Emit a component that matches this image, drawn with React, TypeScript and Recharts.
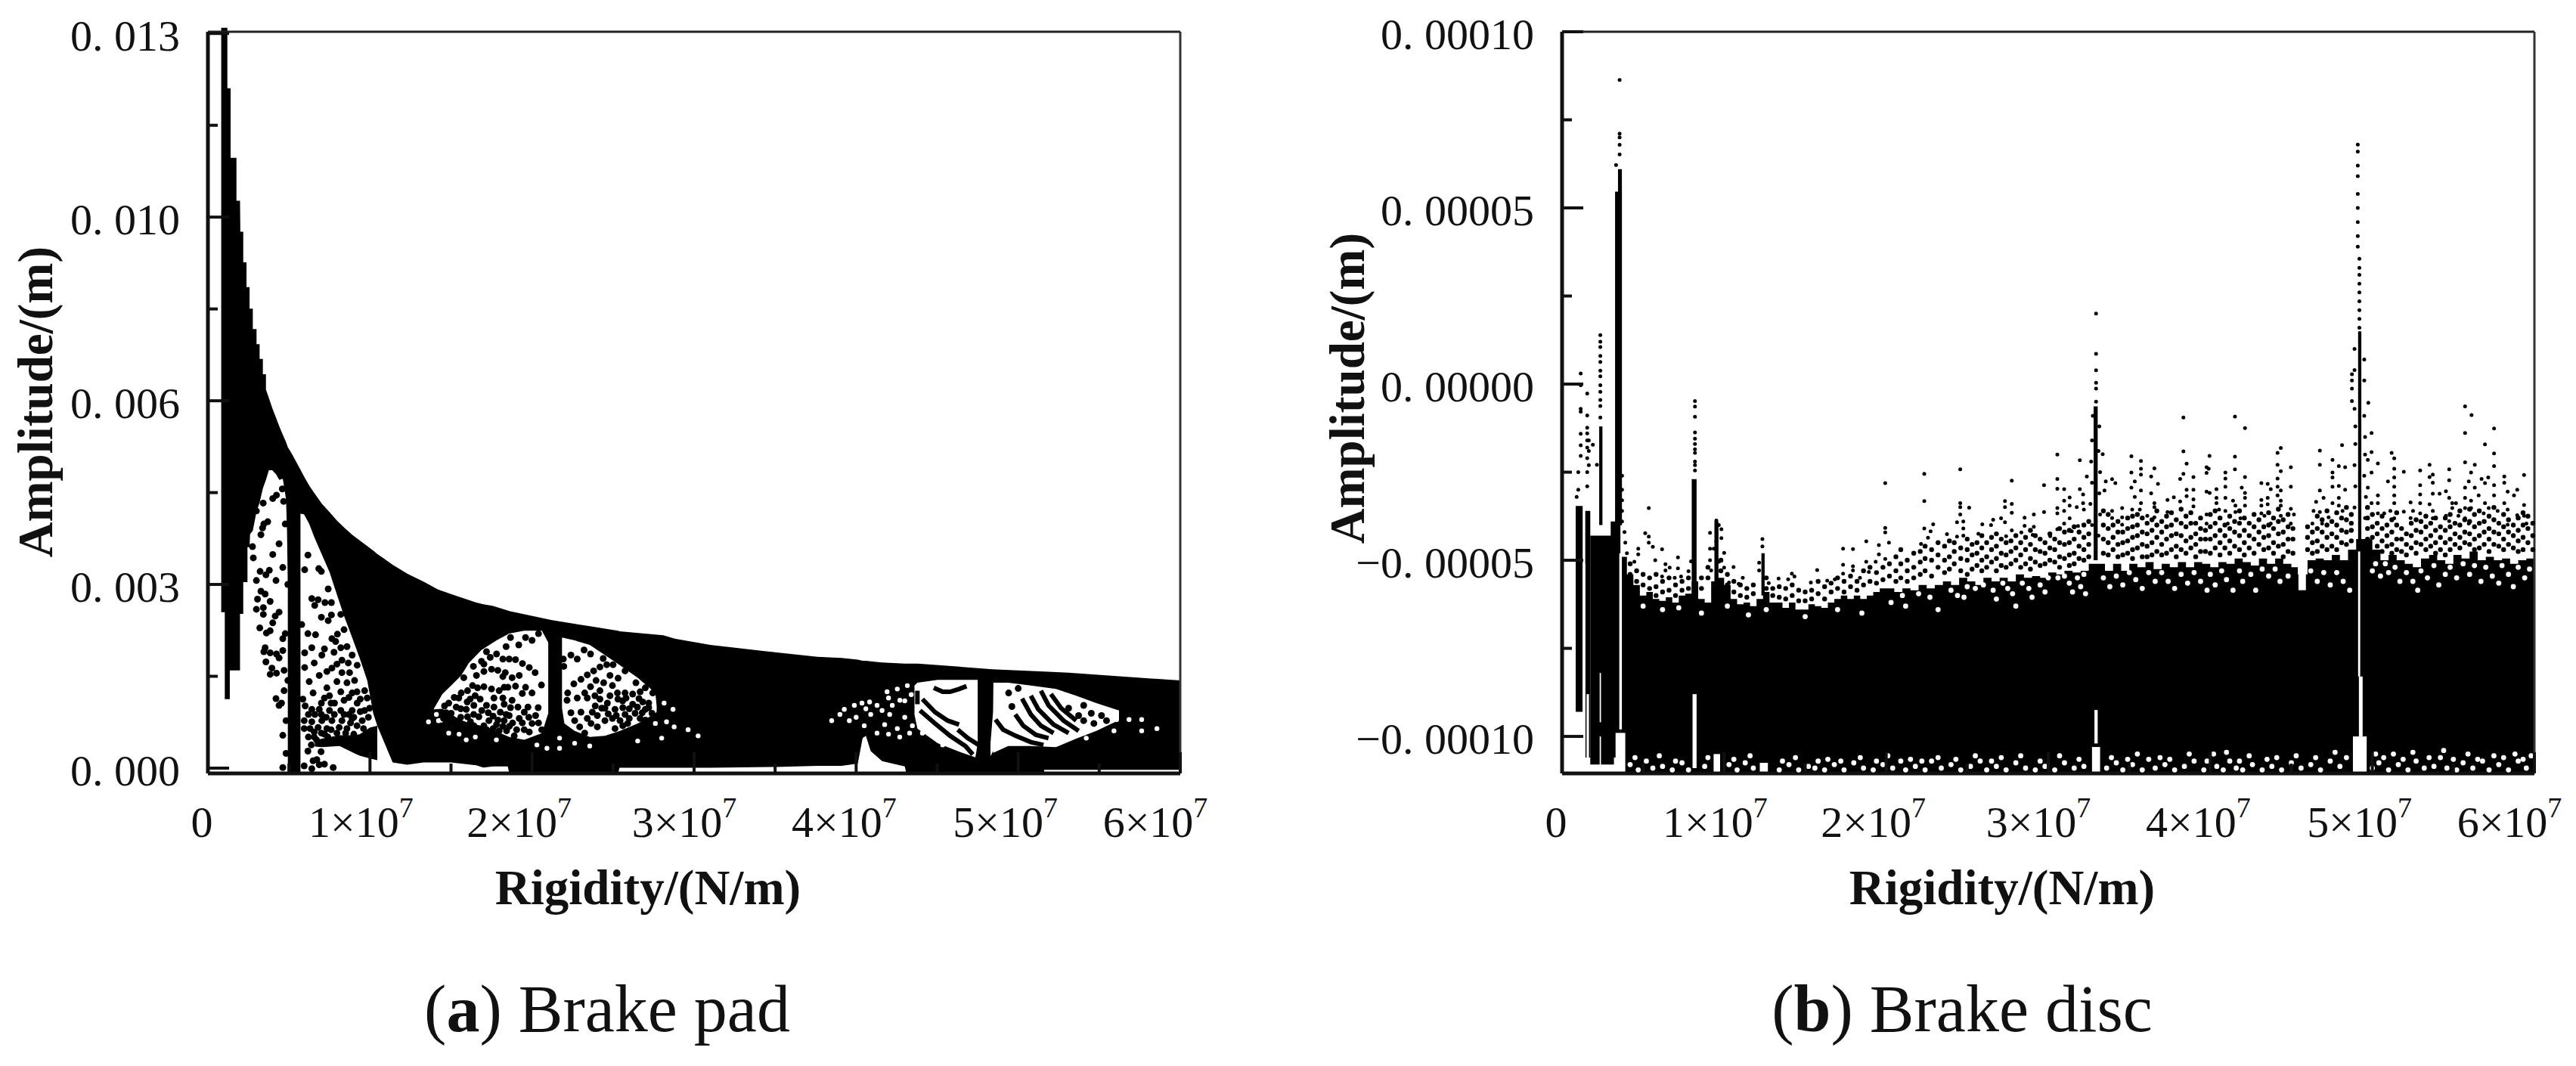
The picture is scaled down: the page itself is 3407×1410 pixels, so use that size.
import React from 'react';
import { ComposedChart, XAxis, YAxis, Area, Line, Scatter, ReferenceLine } from 'recharts';

// x values are in 1e7 N/m, pad amplitude in 1e-3 m, disc amplitude in 1e-5 m
const xMajor = [0, 1, 2, 3, 4, 5, 6];
const xMinor = [0.5, 1.5, 2.5, 3.5, 4.5, 5.5];
const xLabels = ['0', '1×10', '2×10', '3×10', '4×10', '5×10', '6×10'];
const xLabelShift = [-8, -12, -17, -13, -16, -17, -33];

const padYMajor = [0, 3.25, 6.5, 9.75, 13];
const padYMinor = [1.625, 4.875, 8.125, 11.375];
const padYLabels = ['0. 000', '0. 003', '0. 006', '0. 010', '0. 013'];

const discYMajor = [-10, -5, 0, 5, 10];
const discYMinor = [-7.5, -2.5, 2.5, 7.5];
const discYLabels = ['−0. 00010', '−0. 00005', '0. 00000', '0. 00005', '0. 00010'];

// [x, upper edge, lower edge] of the solid black part of panel a
const padBody = [
  [0.082, 13.1, 2.76], [0.104, 13.1, 2.76], [0.104, 13.1, 1.22], [0.12, 13.1, 1.22], [0.12, 12.03, 1.22],
  [0.135, 12.03, 1.22], [0.135, 12.03, 1.73], [0.14, 12.03, 1.73], [0.14, 10.8, 1.73], [0.176, 10.8, 1.73],
  [0.176, 10.04, 1.73], [0.198, 10.04, 1.73], [0.198, 10.04, 2.73], [0.2, 9.49, 2.73], [0.218, 9.49, 2.73],
  [0.218, 8.95, 3.29], [0.238, 8.95, 3.29], [0.238, 8.51, 3.29], [0.244, 8.51, 3.29], [0.244, 8.51, 3.91],
  [0.257, 8.51, 3.91], [0.257, 8.13, 3.91], [0.26, 8.13, 4.14], [0.277, 8.13, 4.2], [0.277, 7.77, 4.2],
  [0.3, 7.77, 4.54], [0.3, 7.5, 4.54], [0.319, 7.5, 4.7], [0.319, 7.24, 4.7], [0.339, 7.24, 4.95],
  [0.339, 6.97, 4.95], [0.358, 6.97, 5.1], [0.358, 6.7, 5.1], [0.376, 6.55, 5.27], [0.397, 6.37, 5.27],
  [0.42, 6.2, 5.2], [0.44, 6.05, 5.1], [0.462, 5.9, 5.12], [0.482, 5.77, 4.76], [0.488, 5.72, 4.2],
  [0.493, 5.68, 3.2], [0.493, 5.68, -0.094], [0.518, 5.56, -0.094], [0.571, 5.28, -0.094], [0.571, 5.28, 4.5],
  [0.593, 5.16, 4.49], [0.625, 5.0, 4.32], [0.656, 4.87, 4.09], [0.703, 4.68, 3.78], [0.75, 4.53, 3.47],
  [0.796, 4.38, 3.07], [0.843, 4.25, 2.67], [0.89, 4.13, 2.31], [0.936, 4.03, 1.95], [0.983, 3.93, 1.55],
  [1.006, 3.88, 1.19], [1.02, 3.85, 0.97], [1.045, 3.79, 0.75], [1.14, 3.6, 0.1], [1.23, 3.44, 0.06],
  [1.33, 3.3, 0.1], [1.42, 3.16, 0.1], [1.5, 3.08, 0.1], [1.656, 2.93, 0.05], [1.7, 2.9, 0.01],
  [1.76, 2.87, 0.03], [1.85, 2.79, 0.03], [1.86, 2.78, -0.094], [2.123, 2.62, -0.094], [2.356, 2.51, -0.094],
  [2.53, 2.43, -0.094], [2.54, 2.42, 0.005], [2.81, 2.35, 0.005], [2.88, 2.29, 0.005], [3.1, 2.18, 0.005],
  [3.5, 2.05, 0.02], [3.76, 1.97, 0.04], [3.91, 1.95, 0.04], [4.01, 1.92, 0.08], [4.04, 1.9, 0.53],
  [4.06, 1.9, 0.57], [4.09, 1.89, 0.3], [4.16, 1.87, 0.125], [4.3, 1.85, 0.03], [4.31, 1.85, -0.094],
  [4.38, 1.85, -0.094], [4.84, 1.75, -0.094], [5.16, 1.71, -0.094], [5.16, 1.71, -0.03], [5.31, 1.69, -0.03], [6.0, 1.55, -0.03],
];

// floor under the first dome, right of the vertical bar
const padFloorPatch = [[0.66, 0.48, 0.38], [0.703, 0.52, 0.37], [0.812, 0.58, 0.39], [0.905, 0.58, 0.26], [0.936, 0.6, 0.22], [1.0, 0.72, 0.17], [1.045, 0.75, 0.14]];

// white domes of panel a
const padDome2Left = [
  [1.392, 1.04, 1.04], [1.447, 1.31, 1.05], [1.501, 1.46, 0.95], [1.563, 1.64, 0.85], [1.61, 1.86, 0.8],
  [1.688, 2.09, 0.75], [1.781, 2.26, 0.65], [1.859, 2.38, 0.55], [1.952, 2.43, 0.5], [2.061, 2.43, 0.62], [2.1, 2.22, 0.97],
];
const padDome2Right = [
  [2.185, 2.31, 1.06], [2.2, 2.3, 0.79], [2.263, 2.26, 0.66], [2.356, 2.18, 0.55], [2.45, 2.0, 0.57],
  [2.543, 1.82, 0.66], [2.652, 1.6, 0.79], [2.761, 1.33, 0.97], [2.769, 1.1, 1.0],
];
const padDome3Left = [
  [4.36, 1.46, 0.95], [4.378, 1.51, 0.7], [4.503, 1.56, 0.44], [4.627, 1.56, 0.3], [4.736, 1.56, 0.19], [4.75, 1.56, 0.44],
];
const padDome3Right = [
  [4.829, 0.44, 0.21], [4.845, 1.0, 0.3], [4.847, 1.51, 0.27], [4.938, 1.51, 0.39], [5.078, 1.46, 0.39],
  [5.233, 1.4, 0.37], [5.358, 1.28, 0.52], [5.482, 1.15, 0.66], [5.622, 1.02, 0.85],
];

const padStreaks = [
  [[4.409, 1.22], [4.487, 0.99], [4.565, 0.84], [4.635, 0.77]],
  [[4.627, 0.68], [4.689, 0.53], [4.767, 0.39]],
  [[4.394, 1.02], [4.487, 0.79], [4.58, 0.57], [4.674, 0.39], [4.72, 0.24]],
  [[4.479, 1.42], [4.534, 1.35], [4.58, 1.35], [4.635, 1.4], [4.681, 1.45]],
  [[4.378, 1.37], [4.378, 1.13]],
  [[4.86, 0.86], [4.907, 0.68], [4.985, 0.57], [5.078, 0.46], [5.156, 0.41]],
  [[4.982, 0.95], [5.031, 0.75], [5.109, 0.59], [5.187, 0.53]],
  [[5.024, 1.23], [5.078, 0.95], [5.14, 0.75], [5.218, 0.62]],
  [[5.078, 1.28], [5.124, 1.04], [5.218, 0.77], [5.311, 0.62]],
  [[5.14, 1.37], [5.187, 1.11], [5.28, 0.84], [5.373, 0.66]],
  [[5.202, 1.31], [5.265, 1.06], [5.358, 0.84]],
];

const padDots = [
  [0.341, 4.69], [0.4, 4.77], [0.423, 4.83], [0.459, 4.94], [0.467, 4.72], [0.299, 4.55], [0.369, 4.36], [0.345, 4.32], [0.337, 4.25],
  [0.327, 4.13], [0.477, 4.32], [0.439, 3.97], [0.275, 3.92], [0.28, 3.72], [0.4, 3.78], [0.462, 3.55], [0.322, 3.48], [0.379, 3.5],
  [0.358, 3.42], [0.299, 3.32], [0.42, 3.32], [0.493, 3.25], [0.327, 3.13], [0.353, 3.08], [0.306, 2.99], [0.384, 2.95], [0.299, 2.81],
  [0.342, 2.84], [0.342, 2.72], [0.439, 2.76], [0.415, 2.69], [0.4, 2.57], [0.32, 2.48], [0.384, 2.43], [0.361, 2.39], [0.477, 2.38],
  [0.462, 2.29], [0.353, 2.13], [0.345, 2.06], [0.384, 2.04], [0.423, 2.02], [0.462, 2.08], [0.439, 1.95], [0.358, 1.88], [0.395, 1.77],
  [0.384, 1.66], [0.423, 1.68], [0.47, 1.73], [0.493, 1.55], [0.47, 1.37], [0.42, 1.23], [0.454, 1.15], [0.439, 1.11], [0.482, 0.84],
  [0.462, 0.58], [0.482, 0.26], [0.462, 0.01],
  [0.617, 3.77], [0.597, 3.51], [0.684, 3.53], [0.7, 3.48], [0.742, 3.17], [0.641, 3.0], [0.68, 2.98], [0.722, 2.93], [0.762, 2.93],
  [0.659, 2.88], [0.82, 2.72], [0.7, 2.67], [0.762, 2.71], [0.742, 2.61], [0.579, 2.54], [0.617, 2.38], [0.664, 2.36], [0.84, 2.45],
  [0.799, 2.37], [0.765, 2.29], [0.788, 2.24], [0.719, 2.11], [0.641, 2.13], [0.597, 2.04], [0.703, 2.0], [0.778, 2.05], [0.82, 2.13],
  [0.858, 2.15], [0.89, 2.0], [0.866, 1.86], [0.827, 1.91], [0.796, 1.84], [0.765, 1.77], [0.734, 1.71], [0.687, 1.64], [0.656, 1.86],
  [0.597, 1.78], [0.827, 1.69], [0.874, 1.69], [0.921, 1.82], [0.625, 1.53], [0.796, 1.53], [0.734, 1.42], [0.858, 1.51], [0.905, 1.55],
  [0.967, 1.37], [0.649, 1.33], [0.75, 1.28], [0.82, 1.35], [0.89, 1.33], [0.586, 1.22], [0.719, 1.24], [0.781, 1.15], [0.921, 1.15],
  [0.983, 1.24], [0.641, 1.04], [0.687, 1.04], [0.75, 1.02], [0.82, 1.02], [0.89, 1.02], [0.967, 1.02], [0.998, 1.06], [0.594, 0.84],
  [0.641, 0.82], [0.703, 0.84], [0.765, 0.84], [0.827, 0.84], [0.89, 0.88], [0.952, 0.84], [0.594, 0.7], [0.656, 0.64], [0.734, 0.7],
  [0.796, 0.62], [0.858, 0.7], [0.656, 0.55], [0.638, 0.41], [0.617, 0.3], [0.698, 0.29], [0.649, 0.13], [0.672, 0.15], [0.719, 0.07],
  [0.773, 0.01], [0.594, 0.04], [0.641, -0.01], [0.687, 0.06],
  [0.6, 1.1], [0.62, 0.95], [0.66, 0.95], [0.7, 0.95], [0.73, 0.9], [0.78, 0.95], [0.84, 0.95], [0.87, 0.95], [0.9, 0.9], [0.94, 1.0],
  [0.63, 0.7], [0.68, 0.72], [0.72, 0.6], [0.76, 0.68], [0.81, 0.72], [0.85, 0.62], [0.88, 0.8], [0.92, 0.75], [0.96, 0.7], [0.99, 0.9],
  [0.7, 1.15], [0.76, 1.15], [0.84, 1.2], [0.87, 1.25], [0.92, 1.35], [0.94, 1.22], [0.67, 0.5], [0.74, 0.55], [0.78, 0.5], [0.9, 0.6],
  [0.98, 0.6], [0.7, 0.62], [0.62, 0.55],
  [2.04, 2.38], [1.96, 2.31], [2.0, 2.26], [1.867, 2.31], [1.84, 2.15], [1.918, 2.18], [1.781, 2.02], [1.742, 1.96], [1.719, 2.06],
  [1.82, 1.93], [1.859, 1.93], [1.898, 1.92], [1.941, 1.85], [1.983, 1.78], [2.019, 1.69], [1.688, 1.89], [1.703, 1.84], [1.638, 1.8],
  [1.703, 1.71], [1.75, 1.75], [1.789, 1.73], [1.835, 1.69], [1.82, 1.62], [1.877, 1.6], [1.921, 1.64], [1.657, 1.64], [1.579, 1.6],
  [2.058, 1.47], [1.96, 1.43], [1.898, 1.45], [1.851, 1.43], [1.828, 1.43], [1.633, 1.46], [1.664, 1.42], [1.703, 1.44], [1.75, 1.4],
  [1.797, 1.37], [1.94, 1.32], [2.0, 1.33], [1.602, 1.37], [1.649, 1.28], [1.68, 1.22], [1.618, 1.22], [1.548, 1.24], [1.563, 1.33],
  [1.765, 1.24], [1.82, 1.24], [1.877, 1.2], [1.828, 1.13], [1.867, 1.07], [1.913, 1.08], [1.975, 1.08], [2.038, 1.07], [1.641, 1.11],
  [1.594, 1.04], [1.719, 1.11], [1.765, 1.08], [1.952, 0.99], [1.921, 0.88], [1.804, 0.99], [1.859, 0.93], [1.828, 0.84], [2.022, 0.93],
  [2.0, 0.79], [1.952, 0.68], [1.905, 0.68], [1.781, 0.77], [1.734, 0.84], [1.672, 0.91], [1.602, 0.91], [1.532, 1.08], [1.501, 0.97],
  [1.548, 0.79], [1.486, 1.15], [1.454, 0.88], [1.641, 0.75], [1.703, 0.75], [1.579, 0.66], [1.486, 0.75], [1.843, 0.66], [1.983, 0.64],
  [1.797, 0.66], [1.89, 0.57],
  [1.46, 1.1], [1.52, 1.25], [1.56, 1.05], [1.6, 1.17], [1.64, 0.95], [1.69, 1.02], [1.73, 0.98], [1.76, 0.92], [1.79, 0.85], [1.84, 0.95],
  [1.88, 0.8], [1.94, 0.8], [1.98, 0.9], [2.04, 0.8], [2.06, 0.68], [1.62, 0.82], [1.66, 0.68], [1.72, 0.68], [1.76, 0.7], [1.82, 0.74],
  [1.86, 0.74], [1.47, 0.98], [1.51, 0.85], [1.56, 0.9], [1.52, 0.72], [1.6, 0.72],
  [2.193, 1.93], [2.24, 2.0], [2.279, 1.93], [2.321, 2.09], [2.361, 2.02], [2.439, 1.94], [2.196, 1.8], [2.461, 1.83], [2.5, 1.83],
  [2.419, 1.79], [2.38, 1.72], [2.341, 1.65], [2.302, 1.57], [2.258, 1.49], [2.574, 1.72], [2.481, 1.64], [2.531, 1.59], [2.395, 1.55],
  [2.442, 1.51], [2.496, 1.46], [2.361, 1.44], [2.419, 1.37], [2.641, 1.51], [2.699, 1.42], [2.745, 1.33], [2.325, 1.33], [2.22, 1.33],
  [2.216, 1.2], [2.279, 1.24], [2.341, 1.24], [2.388, 1.28], [2.481, 1.28], [2.527, 1.33], [2.574, 1.33], [2.621, 1.31], [2.667, 1.35],
  [2.419, 1.22], [2.465, 1.15], [2.559, 1.19], [2.621, 1.13], [2.683, 1.17], [2.24, 0.98], [2.302, 0.99], [2.341, 0.88], [2.372, 0.99],
  [2.403, 0.93], [2.45, 1.06], [2.512, 1.04], [2.574, 0.95], [2.699, 1.04], [2.263, 0.84], [2.294, 0.73], [2.325, 0.62], [2.364, 0.79],
  [2.403, 0.73], [2.45, 0.84], [2.496, 0.88], [2.543, 0.84], [2.636, 0.97], [2.512, 0.7], [2.59, 0.79], [2.667, 0.88],
  [2.52, 0.93], [2.56, 1.07], [2.6, 1.05], [2.65, 1.08], [2.68, 0.98], [2.72, 1.15], [2.6, 0.88], [2.56, 0.75], [2.62, 0.68], [2.47, 0.96],
  [2.43, 1.06], [2.39, 1.1], [2.53, 1.22], [2.58, 1.24], [2.66, 1.23], [2.72, 1.07], [2.7, 0.85], [2.74, 0.97],
  [4.941, 1.33], [5.0, 1.41], [4.961, 1.09], [5.404, 1.11], [5.451, 0.97], [5.514, 0.93], [5.467, 0.79], [5.545, 0.84], [5.373, 0.93],
  [5.311, 1.06], [5.404, 0.84],
];

const padSpecks = [
  [3.927, 1.04], [3.989, 1.11], [4.083, 1.17], [4.129, 1.11], [4.191, 1.35], [4.254, 1.4], [4.316, 1.46], [4.223, 1.11], [4.3, 1.19],
  [4.09, 0.95], [3.849, 0.84], [3.958, 0.84], [4.176, 0.77], [4.254, 0.7], [4.347, 0.75], [4.3, 0.9], [4.129, 0.62], [4.269, 0.55],
  [4.409, 0.62], [4.534, 0.41], [4.036, 1.15], [4.16, 1.02], [4.207, 0.95], [5.373, 1.15], [5.436, 1.13], [5.514, 1.06], [5.575, 0.99],
  [5.607, 0.86], [5.684, 0.86], [5.762, 0.86], [5.498, 0.79], [5.404, 0.62], [5.591, 0.66], [5.762, 0.66], [5.42, 0.53], [5.342, 0.59],
  [5.856, 0.7], [2.815, 1.15], [2.87, 1.04], [2.761, 0.79], [2.83, 0.82], [2.877, 0.73], [2.8, 0.53], [2.963, 0.68], [3.025, 0.57],
  [2.652, 0.48], [2.356, 0.39], [2.263, 0.44], [2.03, 0.41], [1.594, 0.5], [1.486, 0.62], [1.423, 0.84], [1.361, 0.82], [2.17, 0.53],
  [2.17, 0.35], [2.092, 0.35], [1.41, 0.95], [1.44, 0.85], [1.55, 0.6], [1.65, 0.55], [1.78, 0.5], [3.9, 0.95], [4.0, 0.9], [4.06, 1.05],
  [4.2, 1.24], [4.27, 1.2], [4.34, 1.3], [4.05, 0.75], [4.2, 0.6], [4.33, 0.62],
];

// [x, upper edge] of the solid band of panel b, it runs down to the axis
const discBandTop = [
  [0.36, -4.9], [0.4, -5.4], [0.44, -5.7], [0.48, -6.0], [0.52, -5.9], [0.56, -6.1], [0.6, -6.15], [0.64, -6.05], [0.68, -6.2], [0.72, -6.0],
  [0.76, -5.95], [0.8, -5.6], [0.84, -6.1], [0.88, -6.2], [0.92, -5.6], [0.96, -5.5], [1.0, -5.7], [1.04, -6.1], [1.08, -6.25], [1.12, -6.2],
  [1.16, -6.3], [1.2, -6.1], [1.24, -5.9], [1.28, -6.2], [1.32, -6.2], [1.36, -6.35], [1.4, -6.2], [1.44, -6.4], [1.48, -6.4], [1.52, -6.25],
  [1.56, -6.3], [1.6, -6.35], [1.64, -6.2], [1.68, -6.1], [1.72, -6.0], [1.76, -6.1], [1.8, -6.0], [1.84, -6.1], [1.88, -6.0], [1.92, -5.9],
  [1.96, -5.8], [2.0, -5.8], [2.05, -5.9], [2.1, -5.8], [2.15, -5.85], [2.2, -5.7], [2.25, -5.8], [2.3, -5.7], [2.35, -5.6], [2.4, -5.7],
  [2.45, -5.5], [2.5, -5.6], [2.55, -5.7], [2.6, -5.5], [2.65, -5.6], [2.7, -5.5], [2.75, -5.6], [2.8, -5.4], [2.85, -5.5], [2.9, -5.45],
  [2.95, -5.5], [3.0, -5.35], [3.05, -5.4], [3.1, -5.3], [3.15, -5.35], [3.2, -5.3], [3.25, -5.1], [3.35, -5.3], [3.4, -5.1], [3.45, -5.3],
  [3.5, -5.1], [3.55, -5.2], [3.6, -5.05], [3.65, -5.25], [3.7, -5.1], [3.75, -5.2], [3.8, -5.05], [3.85, -5.2], [3.9, -5.05], [3.95, -5.1],
  [4.0, -5.2], [4.05, -5.05], [4.1, -5.1], [4.15, -4.95], [4.2, -5.05], [4.25, -5.15], [4.3, -4.95], [4.35, -5.1], [4.4, -4.95], [4.45, -5.1],
  [4.5, -5.2], [4.54, -5.4], [4.6, -5.0], [4.65, -4.95], [4.7, -5.0], [4.75, -4.85], [4.8, -5.0], [4.85, -4.7], [4.9, -4.4], [5.0, -4.7],
  [5.05, -5.0], [5.1, -4.85], [5.15, -5.0], [5.2, -5.1], [5.25, -5.2], [5.3, -4.95], [5.35, -4.85], [5.4, -5.0], [5.45, -5.1], [5.5, -4.85],
  [5.55, -4.95], [5.6, -4.75], [5.65, -5.0], [5.7, -4.9], [5.75, -5.0], [5.8, -4.95], [5.85, -5.1], [5.9, -5.0], [5.95, -4.95], [6.0, -5.1],
];
const discFloor = -11.05;

// [x from, x to, low, high]
const discSpikes = [
  [0.084, 0.127, -9.3, -3.46], [0.143, 0.174, -10.6, -3.6], [0.174, 0.32, -10.8, -4.3], [0.229, 0.249, -4, -1.2], [0.3, 0.36, -10.6, -3.9],
  [0.345, 0.369, -4, 6.1], [0.327, 0.369, -4, 5.46], [0.8, 0.83, -6, -2.7], [0.94, 0.965, -6, -3.9], [1.23, 1.25, -6, -4.8],
  [3.28, 3.305, -5, -0.63], [4.912, 4.932, -5, 1.5],
];
const discWhiteStrips = [
  [0.127, 0.143, -11.05, -5.1], [0.151, 0.166, -11.05, -8.8], [0.353, 0.369, -9.8, -4.8], [0.33, 0.39, -11.05, -9.9], [0.805, 0.83, -10.9, -8.8],
  [3.285, 3.305, -10.2, -9.25], [3.27, 3.32, -11.05, -10.3], [4.912, 4.925, -8.3, -4.75], [4.917, 4.94, -10, -8.3], [4.88, 4.965, -11.05, -10],
  [4.544, 4.59, -5.85, -4.4], [0.232, 0.24, -9.6, -8.2], [0.232, 0.24, -11.05, -10], [0.935, 0.975, -11.05, -10.5], [1.22, 1.27, -11.05, -10.75],
];

const discDots = [
  [0.355, 8.63], [0.355, 7.11], [0.355, 7.0], [0.355, 6.79], [0.355, 6.52], [0.333, 6.22],
  [0.115, 0.3], [0.115, -0.03], [0.115, -0.7], [0.115, -0.78], [0.115, -1.41], [0.115, -1.74], [0.115, -2.04],
  [0.155, -0.27], [0.155, -0.89], [0.155, -1.24], [0.155, -1.4], [0.155, -1.6], [0.155, -1.8], [0.155, -2.1], [0.155, -2.5], [0.155, -2.9],
  [0.165, -1.6], [0.165, -1.9], [0.165, -2.3], [0.19, -1.72], [0.215, -2.29], [0.1, -2.5], [0.1, -3.0], [0.09, -3.2],
  [0.236, 1.39], [0.236, 1.2], [0.236, 1.05], [0.236, 0.8], [0.236, 0.63], [0.236, 0.38], [0.236, 0.22], [0.236, -0.03], [0.236, -0.22], [0.236, -0.45], [0.236, -0.62], [0.236, -0.95],
  [0.37, -2.6], [0.37, -3.0], [0.37, -3.3], [0.37, -3.6], [0.37, -3.9], [0.385, -4.2], [0.39, -4.5], [0.4, -4.8],
  [0.82, -0.48], [0.82, -0.64], [0.82, -0.93], [0.82, -1.37], [0.82, -1.55], [0.82, -1.7], [0.82, -1.85], [0.82, -1.95], [0.82, -2.2], [0.82, -2.3], [0.82, -2.45],
  [3.295, 2.0], [3.295, 0.86], [3.295, 0.39], [3.295, 0.04], [3.295, -0.13], [3.295, -0.5],
  [3.275, -0.9], [3.315, -1.2], [3.27, -1.6], [3.31, -1.9], [3.265, -2.2], [3.32, -2.5], [3.27, -2.8], [3.315, -3.1], [3.26, -3.4], [3.32, -3.7], [3.27, -4.0], [3.31, -4.3],
  [4.91, 6.8], [4.91, 6.6], [4.91, 6.2], [4.91, 5.9], [4.91, 5.4], [4.91, 5.0], [4.91, 4.6], [4.91, 4.2], [4.91, 3.9], [4.874, 0.28], [4.874, 0.1],
  [4.92, 3.56], [4.92, 3.3], [4.92, 3.1], [4.92, 2.85], [4.92, 2.6], [4.92, 2.35], [4.92, 2.1], [4.92, 1.85], [4.92, 1.6],
  [4.89, 1.0], [4.95, 0.7], [4.89, 0.4], [4.95, 0.1], [4.89, -0.7], [4.95, -0.9], [4.895, -1.2], [4.955, -1.5], [4.895, -1.7], [4.955, -2.0], [4.89, -2.3], [4.95, -2.6], [4.895, -2.9], [4.96, -3.2], [4.89, -3.5], [4.955, -3.8],
  [0.535, -3.52], [0.513, -4.23], [0.535, -4.33], [0.535, -4.5], [0.56, -4.62], [0.617, -4.69], [0.47, -4.67], [0.47, -4.83], [0.446, -5.04], [0.575, -5.0],
  [0.715, -4.92], [0.715, -5.23], [0.638, -5.11], [0.664, -5.21], [0.638, -5.29], [0.617, -5.46], [0.695, -5.5], [0.734, -5.46], [0.78, -5.31], [0.796, -5.03],
  [0.913, -4.22], [0.967, -4.0], [0.983, -4.12], [0.952, -3.87], [0.952, -4.46], [0.983, -4.37], [0.913, -4.67], [0.936, -4.67], [1.0, -4.79], [0.913, -5.0],
  [0.967, -5.04], [0.92, -5.29], [1.0, -5.21], [1.058, -5.19], [1.115, -5.5], [1.09, -5.67], [1.03, -5.63],
  [1.236, -4.4], [1.236, -4.61], [1.216, -5.07], [1.216, -5.29], [1.275, -5.65], [1.336, -5.52], [1.418, -5.38], [1.434, -5.46], [1.395, -5.54], [1.574, -5.28],
  [1.535, -5.63], [1.636, -5.58], [1.734, -4.67], [1.795, -4.68], [1.734, -5.13], [1.795, -5.17], [1.795, -5.29], [1.734, -5.38], [1.877, -4.46], [1.877, -5.04],
  [1.955, -4.57], [1.994, -2.81], [1.994, -4.08], [1.994, -4.21], [2.017, -4.5], [1.955, -4.83], [1.994, -4.96], [1.935, -5.04], [1.893, -5.33], [1.683, -5.54], [1.838, -5.5],
  [2.235, -2.55], [2.235, -3.32], [2.235, -4.1], [2.457, -2.42], [2.457, -3.38], [2.457, -3.49], [2.457, -3.7], [2.476, -3.9], [2.476, -4.1], [2.476, -4.3], [2.512, -3.51],
  [2.29, -3.98], [2.274, -4.18], [2.258, -4.36], [2.215, -4.54], [2.375, -4.26], [2.437, -3.92], [2.437, -4.33], [2.569, -4.25], [2.593, -3.98], [2.647, -4.0], [2.66, -3.85],
  [2.709, -3.81], [2.733, -3.92], [2.74, -4.32], [2.775, -2.74], [2.733, -3.32], [2.733, -3.49], [2.775, -3.4], [2.775, -3.65], [2.775, -4.15], [2.854, -3.79], [2.854, -4.02],
  [2.911, -3.7], [2.911, -4.05], [2.834, -4.21], [2.974, -2.87], [2.974, -3.63], [3.012, -4.32], [2.904, -4.28], [3.056, -2.0], [3.056, -2.69], [3.056, -2.97], [3.056, -3.52],
  [3.056, -3.67], [3.056, -4.12], [3.098, -2.98], [3.098, -3.31], [3.098, -3.6], [3.098, -3.96], [3.132, -3.22], [3.132, -3.45], [3.132, -3.81], [3.195, -2.16], [3.195, -2.98],
  [3.215, -3.13], [3.215, -3.38], [3.22, -3.56], [3.176, -3.49], [3.238, -2.62], [3.184, -4.03], [3.145, -4.18], [3.336, -1.99], [3.355, -2.76], [3.347, -3.02], [3.394, -2.7],
  [3.414, -2.81], [3.394, -3.6], [3.394, -3.8], [3.456, -3.52], [3.456, -3.78], [3.456, -3.99], [3.513, -2.05], [3.513, -2.51], [3.513, -2.94], [3.534, -2.76], [3.572, -2.18],
  [3.572, -2.4], [3.572, -2.57], [3.572, -3.02], [3.534, -3.2], [3.572, -3.38], [3.518, -3.56], [3.565, -3.56], [3.635, -2.62], [3.655, -2.39], [3.677, -2.83], [3.635, -3.1],
  [3.655, -3.38], [3.655, -3.49], [3.611, -3.74], [3.655, -3.78], [3.736, -3.29], [3.775, -3.21], [3.736, -3.63], [3.814, -3.33], [3.834, -0.95], [3.834, -1.91], [3.854, -2.26],
  [3.834, -2.55], [3.814, -2.69], [3.896, -2.64], [3.854, -3.0], [3.896, -3.0], [3.854, -3.18], [3.896, -3.27], [3.896, -3.47], [3.995, -2.04], [3.977, -2.36], [3.977, -2.52],
  [3.977, -3.05], [3.977, -3.7], [3.977, -3.96],
  [3.99, -2.4], [4.152, -0.92], [4.214, -1.25], [4.152, -2.06], [4.152, -2.42], [4.214, -2.64], [4.093, -2.51], [4.093, -2.68], [4.093, -2.91], [4.093, -3.23], [4.093, -3.6],
  [4.038, -2.98], [4.038, -3.23], [4.038, -3.38], [4.054, -3.56], [3.996, -3.09], [4.194, -2.94], [4.214, -3.09], [4.214, -3.23], [4.214, -3.45], [4.14, -3.31], [4.155, -3.45],
  [4.155, -3.63], [4.186, -3.81], [4.108, -3.96], [4.315, -2.81], [4.354, -2.83], [4.373, -2.98], [4.315, -3.29], [4.315, -3.45], [4.354, -3.23], [4.354, -3.41], [4.334, -3.74],
  [4.373, -3.96], [4.315, -3.67], [4.415, -1.95], [4.435, -1.81], [4.415, -2.29], [4.435, -2.47], [4.415, -2.68], [4.415, -2.91], [4.435, -3.02], [4.415, -3.16], [4.435, -3.31],
  [4.435, -3.45], [4.435, -3.74], [4.497, -2.36], [4.497, -2.91], [4.497, -3.54], [4.516, -3.7], [4.497, -3.96], [4.676, -1.89], [4.676, -2.29], [4.676, -3.02], [4.653, -3.34],
  [4.699, -3.23], [4.637, -3.6], [4.676, -3.63], [4.69, -3.96], [4.63, -3.96], [4.754, -2.15], [4.754, -2.51], [4.754, -2.65], [4.754, -2.91], [4.793, -2.33], [4.832, -2.36],
  [4.813, -1.73], [4.793, -2.89], [4.832, -3.0], [4.754, -3.38], [4.793, -3.23], [4.793, -3.45], [4.816, -3.6], [4.73, -3.78],
  [4.874, -0.13], [4.874, -0.48], [4.975, -0.53], [4.995, -1.39], [4.995, -1.93], [4.972, -2.15], [5.034, -2.25], [4.995, -2.51], [4.972, -2.94], [5.034, -3.16], [5.034, -3.38],
  [5.034, -3.67], [4.995, -3.38], [5.119, -1.95], [5.135, -2.11], [5.135, -2.4], [5.135, -2.65], [5.096, -2.76], [5.135, -2.91], [5.135, -3.16], [5.135, -3.38], [5.111, -3.6],
  [5.135, -3.81], [5.073, -3.67], [5.194, -2.49], [5.295, -2.45], [5.353, -2.29], [5.373, -2.57], [5.353, -2.64], [5.373, -2.8], [5.295, -2.87], [5.295, -3.13], [5.295, -3.38],
  [5.295, -3.67], [5.236, -3.36], [5.194, -3.62], [5.251, -3.6], [5.236, -3.8], [5.415, -3.11], [5.373, -3.11], [5.353, -3.41], [5.373, -3.6], [5.373, -3.81], [5.474, -2.42],
  [5.474, -2.73], [5.454, -3.04], [5.474, -3.23], [5.493, -3.38], [5.493, -3.52], [5.474, -3.89], [5.516, -3.38], [5.454, -3.74], [5.531, -3.74], [5.572, -0.63], [5.612, -0.88],
  [5.572, -1.39], [5.695, -1.71], [5.751, -1.26], [5.751, -1.97], [5.751, -2.33], [5.572, -2.22], [5.632, -2.29], [5.609, -2.51], [5.595, -2.76], [5.572, -2.94], [5.632, -2.94],
  [5.572, -3.23], [5.609, -3.31], [5.572, -3.52], [5.609, -3.52], [5.572, -3.81], [5.595, -3.96], [5.674, -2.69], [5.715, -2.65], [5.695, -2.81], [5.656, -3.16], [5.695, -3.38],
  [5.751, -2.87], [5.751, -3.16], [5.718, -3.52], [5.773, -3.6], [5.687, -3.67], [5.814, -2.62], [5.814, -2.8], [5.835, -3.05], [5.814, -3.38], [5.835, -3.56], [5.874, -3.16],
  [5.894, -3.0], [5.894, -3.72], [5.936, -2.58], [5.936, -3.43], [5.936, -3.74], [5.835, -3.99], [5.951, -3.96],
];

// the mottled layer on top of the band, read as [x, y, y, ...] columns
const discMottle = [
  [0.42, -5.1, -5.4], [0.46, -5.3, -5.6, -5.9], [0.5, -5.4, -5.7], [0.54, -5.5, -5.8], [0.58, -5.4, -5.75, -6.0], [0.62, -5.6, -5.9], [0.66, -5.5, -5.85], [0.7, -5.7, -6.0],
  [0.74, -5.6, -5.85], [0.78, -5.5, -5.8], [0.86, -5.5, -5.8], [0.9, -5.2, -5.5], [0.98, -5.0, -5.3], [1.02, -5.4, -5.7], [1.06, -5.6, -5.9], [1.1, -5.7, -6.0],
  [1.14, -5.8, -6.05], [1.18, -5.7, -5.95], [1.26, -5.5, -5.8], [1.3, -5.8, -6.0], [1.34, -5.75, -6.05], [1.38, -5.8, -6.1], [1.42, -5.7, -6.0], [1.46, -5.85, -6.15],
  [1.5, -5.9, -6.15], [1.54, -5.85, -6.1], [1.58, -5.6, -5.95], [1.62, -5.75, -6.1], [1.66, -5.65, -5.9], [1.7, -5.5, -5.8], [1.74, -5.6, -5.9], [1.78, -5.45, -5.75],
  [1.82, -5.6, -5.85], [1.86, -5.3, -5.7], [1.9, -5.2, -5.6], [1.94, -5.35, -5.65], [1.98, -5.2, -5.55], [2.02, -5.1, -5.45], [2.06, -4.9, -5.3, -5.6], [2.09, -4.7, -5.1, -5.5],
  [2.13, -5.0, -5.3, -5.6], [2.17, -4.8, -5.2, -5.5], [2.21, -4.75, -5.05, -5.4], [2.24, -4.6, -4.95, -5.3], [2.28, -4.7, -5.0, -5.45], [2.32, -4.5, -4.85, -5.2], [2.36, -4.6, -5.0, -5.35], [2.39, -4.45, -4.9, -5.25],
  [2.42, -4.5, -4.75, -5.1], [2.46, -4.65, -4.95, -5.3], [2.5, -4.4, -4.7, -5.0, -5.4], [2.53, -4.55, -4.85, -5.25], [2.56, -4.5, -4.8, -5.15], [2.59, -4.3, -4.65, -5.0, -5.3], [2.62, -4.5, -4.9, -5.2], [2.65, -4.35, -4.7, -5.05],
  [2.68, -4.25, -4.6, -4.95, -5.3], [2.71, -4.4, -4.8, -5.15], [2.74, -4.5, -4.85, -5.2], [2.77, -4.45, -4.75, -5.1], [2.8, -4.3, -4.65, -5.0], [2.83, -4.5, -4.85, -5.2], [2.86, -4.35, -4.7, -5.1], [2.89, -4.15, -4.55, -4.95, -5.25],
  [2.92, -4.3, -4.7, -5.05], [2.95, -4.4, -4.75, -5.15], [2.98, -4.5, -4.8, -5.1], [3.01, -4.25, -4.65, -5.0], [3.04, -4.4, -4.7, -5.05], [3.07, -4.1, -4.5, -4.9, -5.2], [3.1, -4.2, -4.55, -4.95], [3.13, -4.15, -4.5, -4.85, -5.15],
  [3.16, -4.05, -4.4, -4.8, -5.1], [3.19, -4.2, -4.6, -4.95], [3.22, -4.0, -4.35, -4.7, -5.0], [3.25, -3.9, -4.25, -4.55, -4.9], [3.34, -3.6, -4.0, -4.4, -4.8], [3.37, -3.7, -4.1, -4.5, -4.85], [3.4, -4.0, -4.35, -4.7], [3.43, -3.9, -4.2, -4.55, -4.9],
  [3.46, -4.2, -4.5, -4.85], [3.49, -3.8, -4.1, -4.45, -4.8], [3.52, -3.75, -4.05, -4.35, -4.7, -4.95], [3.55, -3.7, -4.0, -4.3, -4.65], [3.58, -3.8, -4.2, -4.55, -4.9], [3.61, -3.95, -4.25, -4.6, -4.9], [3.64, -3.85, -4.15, -4.5, -4.85], [3.67, -3.6, -4.0, -4.35, -4.75],
  [3.7, -3.9, -4.2, -4.55, -4.85], [3.73, -3.75, -4.05, -4.4, -4.8], [3.76, -3.65, -4.0, -4.3, -4.7], [3.79, -3.85, -4.25, -4.6, -4.9], [3.82, -3.55, -3.95, -4.3, -4.7], [3.85, -3.75, -4.05, -4.45, -4.8], [3.88, -3.65, -3.95, -4.35, -4.65], [3.91, -3.95, -4.25, -4.55, -4.9],
  [3.94, -3.8, -4.1, -4.4, -4.75], [3.97, -4.15, -4.4, -4.75], [4.0, -3.7, -4.05, -4.4, -4.8], [4.03, -3.6, -3.95, -4.3, -4.65], [4.06, -3.8, -4.15, -4.5, -4.85], [4.09, -4.0, -4.3, -4.65], [4.12, -3.75, -4.1, -4.45, -4.8], [4.15, -3.9, -4.2, -4.6],
  [4.18, -3.6, -3.95, -4.3, -4.7], [4.21, -3.8, -4.15, -4.5, -4.85], [4.24, -3.95, -4.3, -4.65], [4.27, -3.7, -4.05, -4.4, -4.8], [4.3, -3.85, -4.2, -4.55], [4.33, -4.05, -4.35, -4.7], [4.36, -3.65, -4.0, -4.3, -4.65], [4.39, -3.8, -4.1, -4.5, -4.8],
  [4.42, -3.55, -3.9, -4.25, -4.6], [4.45, -3.85, -4.2, -4.55, -4.9], [4.48, -3.7, -4.05, -4.4, -4.75], [4.51, -4.1, -4.4, -4.8], [4.6, -4.05, -4.35, -4.7], [4.63, -4.2, -4.5, -4.8], [4.66, -3.75, -4.1, -4.45, -4.75], [4.69, -3.85, -4.2, -4.6],
  [4.72, -3.6, -4.0, -4.35, -4.7], [4.75, -3.9, -4.25, -4.6], [4.78, -3.65, -4.0, -4.35, -4.7], [4.81, -3.8, -4.15, -4.5], [4.84, -3.5, -3.85, -4.2, -4.55], [4.87, -3.7, -3.95, -4.15, -4.45], [4.97, -3.5, -3.8, -4.1, -4.4], [5.0, -3.7, -4.05, -4.35],
  [5.03, -3.95, -4.25, -4.6], [5.06, -3.75, -4.1, -4.45, -4.75], [5.09, -4.0, -4.3, -4.6], [5.12, -3.85, -4.2, -4.55, -4.8], [5.15, -3.65, -4.0, -4.4, -4.7], [5.18, -4.1, -4.4, -4.75], [5.21, -4.25, -4.55, -4.85], [5.24, -3.95, -4.3, -4.65],
  [5.27, -3.85, -4.15, -4.5, -4.8], [5.3, -3.9, -4.2, -4.55], [5.33, -3.75, -4.05, -4.4, -4.7], [5.36, -3.95, -4.3, -4.6], [5.39, -3.8, -4.15, -4.5, -4.8], [5.42, -4.05, -4.35, -4.7], [5.45, -3.8, -4.15, -4.5, -4.85], [5.48, -3.7, -4.05, -4.4, -4.7],
  [5.51, -3.95, -4.25, -4.55], [5.54, -3.6, -4.0, -4.35, -4.65], [5.57, -3.85, -4.2, -4.5], [5.6, -3.55, -3.9, -4.25, -4.55], [5.63, -3.7, -4.05, -4.4, -4.7], [5.66, -3.6, -3.95, -4.3, -4.65], [5.69, -3.9, -4.2, -4.55], [5.72, -3.75, -4.1, -4.4, -4.75],
  [5.75, -3.5, -3.85, -4.2, -4.55], [5.78, -3.95, -4.25, -4.6], [5.81, -3.7, -4.05, -4.4, -4.7], [5.84, -3.85, -4.2, -4.55], [5.87, -4.0, -4.3, -4.65], [5.9, -3.8, -4.15, -4.45, -4.75], [5.93, -3.65, -4.0, -4.35, -4.7], [5.96, -3.75, -4.1, -4.5], [5.99, -3.95, -4.3, -4.7],
];

// white holes in the top of the band and in the bottom strip
const discSpecks = [
  [0.5, -6.3], [0.62, -6.4], [0.72, -6.35], [0.86, -6.5], [1.02, -6.3], [1.15, -6.55], [1.26, -6.4], [1.5, -6.6], [1.7, -6.4], [1.85, -6.5], [2.03, -6.2], [2.12, -6.3],
  [2.1, -6.0], [2.2, -5.95], [2.27, -6.05], [2.32, -6.4], [2.4, -5.85], [2.44, -6.0], [2.48, -6.05], [2.5, -5.75], [2.55, -5.8], [2.6, -5.7], [2.66, -5.85], [2.68, -6.1],
  [2.72, -5.65], [2.75, -5.8], [2.78, -5.95], [2.8, -6.3], [2.84, -5.65], [2.88, -5.8], [2.9, -6.05], [2.95, -5.7], [2.98, -5.9], [3.0, -5.5], [3.06, -5.5], [3.1, -5.45],
  [3.13, -5.65], [3.15, -5.9], [3.18, -5.5], [3.2, -5.75], [3.22, -5.4], [3.23, -5.95], [3.34, -5.5], [3.38, -5.75], [3.42, -5.45], [3.46, -5.7], [3.5, -5.35], [3.54, -5.55],
  [3.58, -5.8], [3.62, -5.35], [3.66, -5.6], [3.7, -5.35], [3.74, -5.6], [3.78, -5.8], [3.82, -5.4], [3.86, -5.65], [3.9, -5.35], [3.94, -5.6], [3.98, -5.85],
  [4.0, -5.4], [4.03, -5.7], [4.07, -5.3], [4.1, -5.55], [4.14, -5.85], [4.18, -5.3], [4.2, -5.6], [4.25, -5.4], [4.28, -5.85], [4.32, -5.25], [4.36, -5.45], [4.4, -5.25],
  [4.43, -5.6], [4.48, -5.45], [4.62, -5.3], [4.66, -5.6], [4.7, -5.35], [4.74, -5.7], [4.78, -5.35], [4.82, -5.6], [4.86, -5.85], [5.0, -5.3], [5.02, -5.1], [5.05, -5.45],
  [5.08, -5.1], [5.1, -5.35], [5.14, -5.2], [5.17, -5.6], [5.21, -5.35], [5.25, -5.6], [5.28, -5.85], [5.3, -5.3], [5.34, -5.5], [5.38, -5.15], [5.41, -5.7], [5.45, -5.4],
  [5.48, -5.2], [5.52, -5.5], [5.56, -5.1], [5.6, -5.4], [5.63, -5.15], [5.67, -5.6], [5.7, -5.2], [5.74, -5.45], [5.78, -5.65], [5.8, -5.15], [5.84, -5.4], [5.87, -5.75],
  [5.9, -5.2], [5.94, -5.5], [5.97, -5.25],
  [0.42, -10.8], [0.47, -10.95], [0.52, -10.7], [0.56, -10.9], [0.62, -10.85], [0.68, -10.95], [0.74, -10.75], [0.78, -10.95], [0.88, -10.85], [1.03, -10.8], [1.08, -10.95], [1.13, -10.75],
  [1.18, -10.9], [1.34, -10.95], [1.4, -10.8], [1.46, -10.95], [1.52, -10.85], [1.58, -10.7], [1.62, -10.95], [1.68, -10.8], [1.74, -10.95], [1.8, -10.75], [1.86, -10.9], [1.92, -10.95],
  [1.98, -10.8], [2.04, -10.9], [2.09, -10.7], [2.12, -10.95], [2.18, -10.85], [2.24, -10.95], [2.28, -10.7], [2.34, -10.9], [2.4, -10.8], [2.46, -10.95], [2.52, -10.85], [2.58, -10.7],
  [2.62, -10.95], [2.68, -10.85], [2.74, -10.95], [2.8, -10.75], [2.86, -10.9], [2.92, -10.95], [2.98, -10.85], [3.04, -10.95], [3.1, -10.75], [3.16, -10.9], [3.22, -10.85], [3.36, -10.9],
  [3.42, -10.75], [3.46, -10.95], [3.52, -10.8], [3.58, -10.95], [3.62, -10.65], [3.66, -10.9], [3.72, -10.8], [3.78, -10.95], [3.84, -10.85], [3.9, -10.7], [3.96, -10.95], [4.02, -10.5],
  [4.04, -10.85], [4.08, -10.95], [4.12, -10.7], [4.16, -10.9], [4.2, -10.95], [4.26, -10.8], [4.32, -10.95], [4.38, -10.85], [4.44, -10.95], [4.5, -10.75], [4.56, -10.9], [4.62, -10.8],
  [4.68, -10.95], [4.74, -10.7], [4.8, -10.85], [4.84, -10.6], [5.0, -10.9], [5.04, -10.75], [5.1, -10.95], [5.16, -10.8], [5.22, -10.95], [5.27, -10.7], [5.32, -10.9], [5.38, -10.85],
  [5.42, -10.6], [5.46, -10.9], [5.52, -10.95], [5.56, -10.75], [5.62, -10.9], [5.68, -10.7], [5.72, -10.95], [5.78, -10.8], [5.84, -10.95], [5.9, -10.7], [5.95, -10.9],
  [0.45, -10.6], [0.6, -10.55], [0.7, -10.7], [0.9, -10.6], [1.06, -10.65], [1.16, -10.55], [1.36, -10.7], [1.44, -10.6], [1.56, -10.9], [1.64, -10.65], [1.72, -10.7], [1.84, -10.6],
  [1.94, -10.7], [2.01, -10.55], [2.15, -10.65], [2.22, -10.7], [2.32, -10.6], [2.43, -10.65], [2.55, -10.55], [2.65, -10.7], [2.71, -10.6], [2.83, -10.55], [2.95, -10.7], [3.07, -10.55],
  [3.19, -10.65], [3.39, -10.6], [3.49, -10.65], [3.55, -10.5], [3.69, -10.6], [3.75, -10.65], [3.87, -10.5], [3.98, -10.7], [4.1, -10.45], [4.18, -10.7], [4.24, -10.55], [4.35, -10.65],
  [4.41, -10.6], [4.53, -10.55], [4.65, -10.6], [4.77, -10.45], [5.02, -10.5], [5.07, -10.6], [5.13, -10.5], [5.19, -10.65], [5.25, -10.45], [5.35, -10.6], [5.44, -10.4], [5.5, -10.65],
  [5.59, -10.5], [5.65, -10.65], [5.75, -10.55], [5.81, -10.6], [5.88, -10.5], [5.93, -10.65], [5.98, -10.55],
];

const FONT = '"Liberation Serif", serif';

const toBand = (rows: number[][]) => rows.map(([x, high, low]) => ({ x, band: [low, high] }));
const toPoints = (rows: number[][]) => rows.map(([x, y]) => ({ x, y }));
const toColumn = ([from, to, low, high]: number[]) => [
  { x: from, band: [low, high] },
  { x: to, band: [low, high] },
];
const fromColumns = (rows: number[][]) => rows.flatMap(([x, ...ys]) => ys.map((y) => ({ x, y })));

const dot = (r: number, fill: string) => (p: any) => <circle cx={p.cx} cy={p.cy} r={r} fill={fill} />;

const band = (rows: { x: number; band: number[] }[], fill: string, key: string, curve = 'linear') => (
  <Area
    key={key}
    data={rows}
    dataKey="band"
    type={curve as any}
    stroke="none"
    fill={fill}
    fillOpacity={1}
    dot={false}
    activeDot={false}
    isAnimationActive={false}
  />
);

const XTick = ({ x, y, payload }: any) => {
  const i = xMajor.indexOf(payload.value);
  if (i < 0) return <line x1={x} x2={x} y1={y} y2={y - 13} stroke="#111" strokeWidth={4} />;
  return (
    <g>
      {i > 0 && <line x1={x} x2={x} y1={y} y2={y - 28} stroke="#111" strokeWidth={4} />}
      <text x={x + xLabelShift[i]} y={y + 84} textAnchor="middle" fontFamily={FONT} fontSize={58} fill="#111">
        {xLabels[i]}
        {i > 0 && (
          <tspan dy={-26} fontSize={38}>
            7
          </tspan>
        )}
      </text>
    </g>
  );
};

const yTick = (major: number[], labels: string[]) => ({ x, y, payload }: any) => {
  const i = major.indexOf(payload.value);
  if (i < 0) return <line x1={x} x2={x + 13} y1={y} y2={y} stroke="#111" strokeWidth={4} />;
  return (
    <g>
      <line x1={x} x2={x + 28} y1={y} y2={y} stroke="#111" strokeWidth={4} />
      <text x={x - 37} y={y + 23} textAnchor="end" fontFamily={FONT} fontSize={58} fill="#111">
        {labels[i]}
      </text>
    </g>
  );
};

const titleStyle = { fontFamily: FONT, fontWeight: 700, fontSize: 65, fill: '#111' };

const Panel = ({ width, axisWidth, right, yMax, yMin, yMajor, yMinor, yLabels, titleDx, titleDy, children }: any) => (
  <ComposedChart width={width} height={1410} margin={{ top: 42, right, bottom: 214, left: 0 }}>
    <XAxis
      dataKey="x"
      type="number"
      domain={[0, 6]}
      ticks={[...xMajor, ...xMinor].sort((a, b) => a - b)}
      interval={0}
      height={173}
      tickSize={0}
      tickMargin={0}
      tickLine={false}
      tick={XTick}
      axisLine={{ stroke: '#111', strokeWidth: 5 }}
      label={{ value: 'Rigidity/(N/m)', position: 'insideBottom', dx: -61, offset: 0, style: titleStyle }}
    />
    <YAxis
      dataKey="y"
      type="number"
      domain={[yMin, yMax]}
      ticks={[...yMajor, ...yMinor].sort((a: number, b: number) => a - b)}
      interval={0}
      width={axisWidth}
      tickSize={0}
      tickMargin={0}
      tickLine={false}
      tick={yTick(yMajor, yLabels)}
      axisLine={{ stroke: '#111', strokeWidth: 5 }}
      label={{ value: 'Amplitude/(m)', angle: -90, position: 'insideLeft', dx: titleDx, dy: titleDy, style: titleStyle }}
    />
    {children}
    <ReferenceLine y={yMax} stroke="#222" strokeWidth={3} />
    <ReferenceLine x={6} stroke="#333" strokeWidth={3} />
  </ComposedChart>
);

const Caption = ({ left, letter, text }: { left: number; letter: string; text: string }) => (
  <div
    style={{
      position: 'absolute',
      left: left - 400,
      top: 1285,
      width: 800,
      textAlign: 'center',
      fontFamily: FONT,
      fontSize: 88,
      lineHeight: '100px',
      color: '#111',
    }}
  >
    (<b>{letter}</b>) {text}
  </div>
);

export default function App() {
  return (
    <div style={{ position: 'absolute', left: 0, top: 0, width: 3407, height: 1410, background: '#fff', overflow: 'hidden' }}>
      <div style={{ position: 'absolute', left: 0, top: 0 }}>
        <Panel
          width={1700}
          axisWidth={275}
          right={139}
          yMin={-0.094}
          yMax={13.03}
          yMajor={padYMajor}
          yMinor={padYMinor}
          yLabels={padYLabels}
          titleDx={41}
          titleDy={205}
        >
          {band(toBand(padBody), '#000', 'body')}
          {band(toBand(padFloorPatch), '#000', 'floor')}
          {band(toBand(padDome2Left), '#fff', 'd2l')}
          {band(toBand(padDome2Right), '#fff', 'd2r')}
          {band(toBand(padDome3Left), '#fff', 'd3l')}
          {band(toBand(padDome3Right), '#fff', 'd3r')}
          {padStreaks.map((s, i) => (
            <Line
              key={i}
              data={toPoints(s)}
              dataKey="y"
              type="linear"
              stroke="#000"
              strokeWidth={6}
              dot={false}
              activeDot={false}
              isAnimationActive={false}
            />
          ))}
          <Scatter data={toPoints(padSpecks)} shape={dot(3.2, '#fff')} isAnimationActive={false} />
          <Scatter data={toPoints(padDots)} shape={dot(4.5, '#000')} isAnimationActive={false} />
        </Panel>
      </div>
      <div style={{ position: 'absolute', left: 1700, top: 0 }}>
        <Panel
          width={1707}
          axisWidth={366}
          right={55}
          yMin={-11.05}
          yMax={10}
          yMajor={discYMajor}
          yMinor={discYMinor}
          yLabels={discYLabels}
          titleDx={76}
          titleDy={187}
        >
          {band(discBandTop.map(([x, top]) => ({ x, band: [discFloor, top] })), '#000', 'body', 'stepAfter')}
          {discSpikes.map((s, i) => band(toColumn(s), '#000', 'spike' + i))}
          {discWhiteStrips.map((s, i) => band(toColumn(s), '#fff', 'strip' + i))}
          <Scatter data={toPoints(discDots)} shape={dot(2.5, '#000')} isAnimationActive={false} />
          <Scatter data={fromColumns(discMottle)} shape={dot(3.2, '#000')} isAnimationActive={false} />
          <Scatter data={toPoints(discSpecks)} shape={dot(3.4, '#fff')} isAnimationActive={false} />
        </Panel>
      </div>
      <Caption left={803} letter="a" text="Brake pad" />
      <Caption left={2595} letter="b" text="Brake disc" />
    </div>
  );
}
